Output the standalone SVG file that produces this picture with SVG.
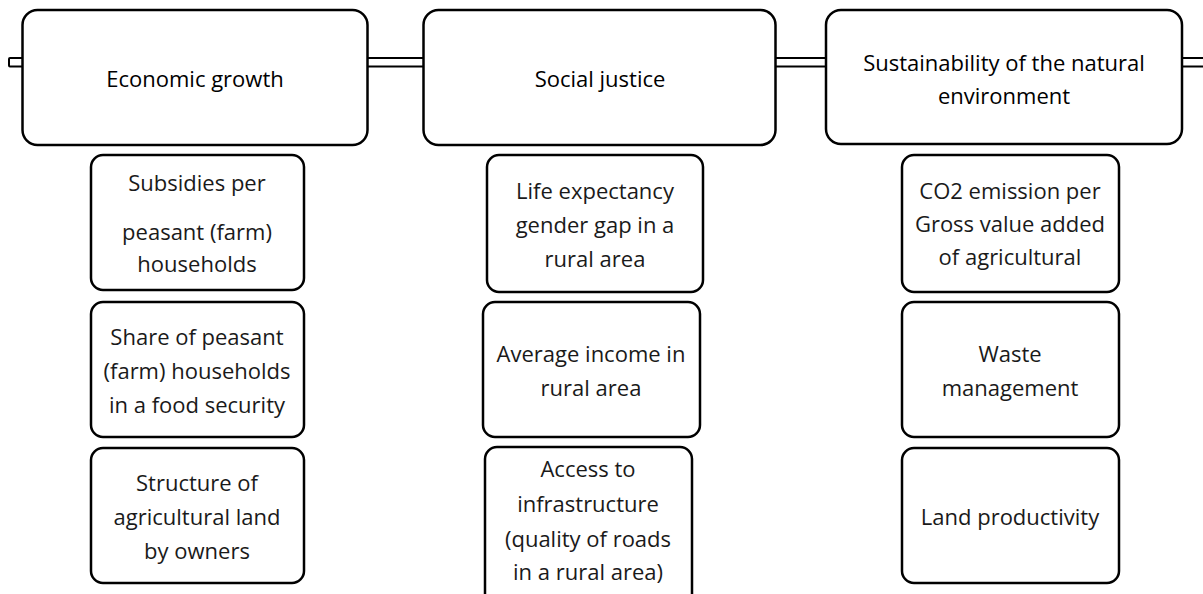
<svg xmlns="http://www.w3.org/2000/svg" width="1203" height="594" viewBox="0 0 1203 594">
<style>
.big{fill:#fff;stroke:#000;stroke-width:2.5}
.small{fill:#fff;stroke:#000;stroke-width:2.5}
.conn{fill:#fff;stroke:#000;stroke-width:2}
text{font-family:"Open Sans","Noto Sans","Liberation Sans",sans-serif;font-size:22px;fill:#1a1a1a;text-anchor:middle;dominant-baseline:central}
.t{fill:#000}
</style>
<g id="connectors">
<rect class="conn" x="9" y="58" width="16" height="8.5" rx="1"/>
<rect class="conn" x="360" y="58" width="70" height="8.5"/>
<rect class="conn" x="770" y="58" width="62" height="8.5"/>
<rect class="conn" x="1175" y="58" width="40" height="8.5"/>
</g>
<g id="n-economic"><rect class="big" x="22.5" y="10" width="345" height="135" rx="15"/><text class="t" x="195" y="78">Economic growth</text></g>
<g id="n-social"><rect class="big" x="423.5" y="10" width="352" height="135" rx="15"/><text class="t" x="600" y="78">Social justice</text></g>
<g id="n-sustain"><rect class="big" x="826" y="10" width="356" height="134" rx="15"/><text class="t" x="1004" y="62">Sustainability of the natural</text><text class="t" x="1004" y="95">environment</text></g>

<g id="n-subsidies"><rect class="small" x="91" y="155" width="213" height="135" rx="12"/><text x="197" y="182">Subsidies per</text><text x="197" y="231">peasant (farm)</text><text x="197" y="263">households</text></g>
<g id="n-share"><rect class="small" x="91" y="302" width="213" height="135" rx="12"/><text x="197" y="336">Share of peasant</text><text x="197" y="370">(farm) households</text><text x="197" y="404">in a food security</text></g>
<g id="n-structure"><rect class="small" x="91" y="448" width="213" height="135" rx="12"/><text x="197" y="482">Structure of</text><text x="197" y="516">agricultural land</text><text x="197" y="550">by owners</text></g>

<g id="n-life"><rect class="small" x="487" y="155" width="216" height="137" rx="12"/><text x="595" y="190">Life expectancy</text><text x="595" y="224">gender gap in a</text><text x="595" y="258">rural area</text></g>
<g id="n-income"><rect class="small" x="483" y="302" width="217" height="135" rx="12"/><text x="591" y="353">Average income in</text><text x="591" y="387">rural area</text></g>
<g id="n-access"><rect class="small" x="485" y="447" width="207" height="170" rx="12"/><text x="588" y="468">Access to</text><text x="588" y="503">infrastructure</text><text x="588" y="538">(quality of roads</text><text x="588" y="571">in a rural area)</text></g>

<g id="n-co2"><rect class="small" x="902" y="155" width="217" height="137" rx="12"/><text x="1010" y="190">CO2 emission per</text><text x="1010" y="223">Gross value added</text><text x="1010" y="256">of agricultural</text></g>
<g id="n-waste"><rect class="small" x="902" y="302" width="217" height="135" rx="12"/><text x="1010" y="353">Waste</text><text x="1010" y="387">management</text></g>
<g id="n-land"><rect class="small" x="902" y="448" width="217" height="135" rx="12"/><text x="1010" y="516">Land productivity</text></g>
</svg>
